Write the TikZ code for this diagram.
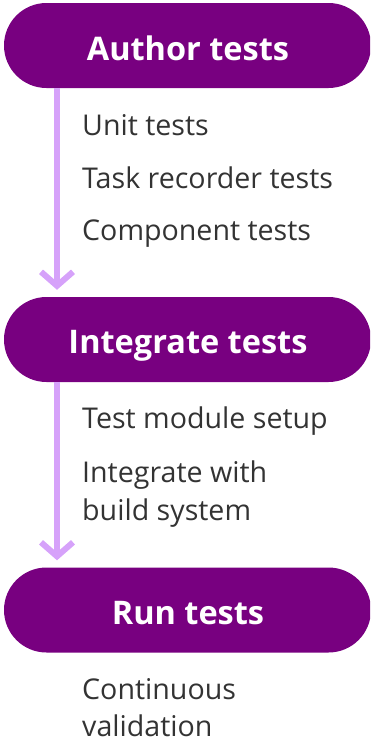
\documentclass[tikz,border=0pt]{standalone}
\usepackage{fontspec}
\setmainfont{Open Sans}
\usetikzlibrary{arrows.meta}
\definecolor{boxpurple}{HTML}{780080}
\definecolor{arrowlilac}{HTML}{D6A2FA}
\definecolor{bodygray}{HTML}{333333}
\begin{document}
\begin{tikzpicture}[x=1pt,y=-1pt,
  stagebox/.style={fill=boxpurple, rounded corners=42.5pt, minimum width=367pt, minimum height=85pt, inner sep=0pt},
  stagetext/.style={anchor=base, text=white, font=\fontsize{32.5}{38}\selectfont\bfseries},
  itemtext/.style={anchor=base west, text=bodygray, font=\fontsize{28.6}{34}\selectfont, inner sep=0pt},
  flow/.style={draw=arrowlilac, line width=6pt, -{Straight Barb[length=14pt,width=32pt,line width=6pt]}, shorten >=7pt}]
\useasboundingbox (0,0) rectangle (370,742);
\clip (0,0) rectangle (370,742);
% stage boxes
\node[stagebox] (b1) at (187.5,45.5) {};
\node[stagebox] (b2) at (187.5,339.5) {};
\node[stagebox] (b3) at (187.5,610) {};
\node[stagetext] (t1) at (188,60) {Author tests};
\node[stagetext] (t2) at (188,353) {Integrate tests};
\node[stagetext] (t3) at (188,624) {Run tests};
% connectors
\coordinate (c1) at (57,0);
\draw[flow] (b1.south -| c1) -- (b2.north -| c1);
\draw[flow] (b2.south -| c1) -- (b3.north -| c1);
% items
\node[itemtext] (i1) at (82,135) {Unit tests};
\node[itemtext] (i2) at (82,188) {Task recorder tests};
\node[itemtext] (i3) at (82,240) {Component tests};
\node[itemtext] (i4) at (82,428) {Test module setup};
\node[itemtext] (i5) at (82,482) {Integrate with};
\node[itemtext] (i6) at (82,520) {build system};
\node[itemtext] (i7) at (82,699) {Continuous};
\node[itemtext] (i8) at (82,736) {validation};
\end{tikzpicture}
\end{document}
